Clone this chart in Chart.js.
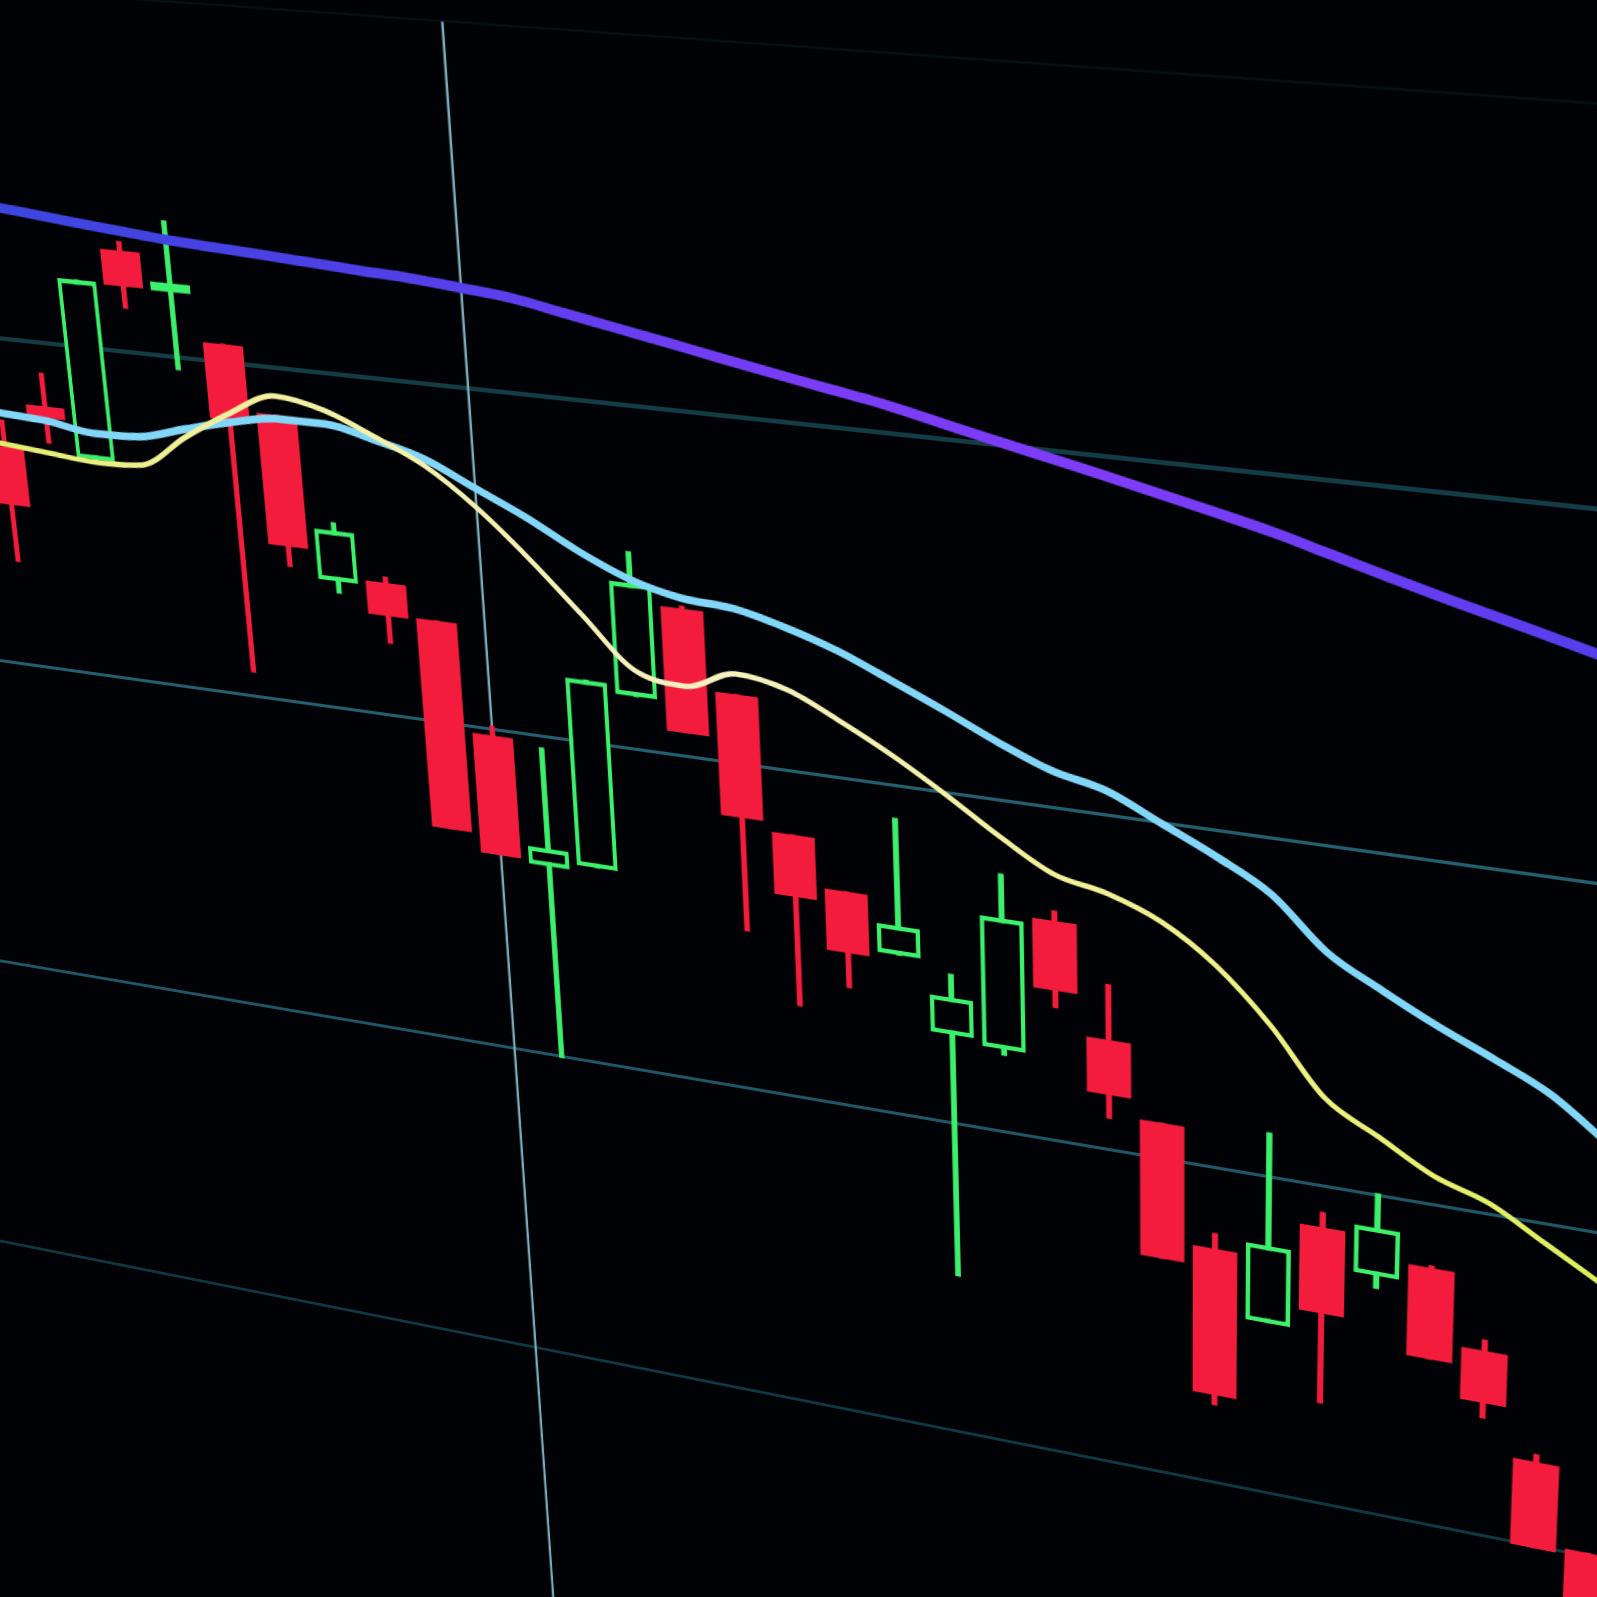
<!DOCTYPE html>
<html>
<head>
<meta charset="utf-8">
<title>Candlestick chart</title>
<script src="https://cdn.jsdelivr.net/npm/chart.js@4.4.1/dist/chart.umd.min.js"></script>
<style>
  html, body { margin: 0; padding: 0; background: #010205; width: 1597px; height: 1597px; overflow: hidden; }
  #wrap { position: relative; width: 1597px; height: 1597px; overflow: hidden; background: #010205; }
  #myChart { position: absolute; left: 0; top: 0; transform-origin: 0 0; }
</style>
</head>
<body>
<div id="wrap"><canvas id="myChart" width="1780" height="1680" style="width:1780px;height:1680px"></canvas></div>
<script>
// candles (one per period)
var days = [0, 1, 2, 3, 4, 5, 6, 7, 8, 9, 10, 11, 12, 13, 14, 15, 16, 17, 18, 19, 20, 21, 22, 23, 24, 25, 26, 27, 28, 29, 30, 31];
var open  = [267.3, 280.9, 266.5, 329.2, 318.6, 305.1, 286.1, 238.7, 240.1, 230.7, 198.1, 160.1, 161.9, 215.8, 243.5, 220.5, 181.0, 166.2, 149.3, 127.5, 125.6, 166.8, 133.6, 111.0, 74.9, 54.6, 87.4, 75.4, 80.8, 58.3, 26.7, 1.2];
var high  = [275.3, 290.8, 319.5, 331.8, 339.0, 305.1, 286.1, 256.2, 241.9, 230.7, 201.0, 196.5, 218.8, 258.2, 244.3, 220.5, 181.0, 166.2, 190.4, 146.0, 178.4, 169.8, 150.3, 111.0, 79.7, 113.5, 92.0, 100.6, 81.5, 61.7, 29.1, 1.2];
var low   = [232.2, 269.9, 266.5, 312.6, 296.2, 207.5, 241.4, 235.2, 222.0, 167.2, 161.3, 99.6, 161.9, 215.8, 207.0, 149.5, 128.8, 136.9, 149.3, 51.4, 123.7, 140.8, 109.7, 68.9, 25.3, 54.6, 32.4, 71.5, 52.6, 37.3, -0.7, -35];
var close = [249.6, 277.4, 319.5, 318.9, 321.2, 283.1, 247.4, 253.8, 230.2, 167.2, 161.3, 165.7, 218.8, 249.1, 207.0, 183.9, 162.3, 147.6, 158.2, 138.9, 165.2, 146.0, 116.9, 68.9, 28.5, 78.7, 60.7, 90.1, 52.6, 42.1, -0.7, -35];

// moving averages (start one period before the first candle)
var maDays = [-1, 0, 1, 2, 3, 4, 5, 6, 7, 8, 9, 10, 11, 12, 13, 14, 15, 16, 17, 18, 19, 20, 21, 22, 23, 24, 25, 26, 27, 28, 29, 30, 31];
var maSlow = [340.2, 338.9, 337.6, 336.2, 334.9, 333.6, 332.7, 331.9, 331.0, 330.1, 329.3, 328.0, 326.5, 323.8, 321.1, 318.4, 315.6, 312.9, 310.3, 307.7, 304.4, 301.1, 297.9, 294.7, 291.3, 287.9, 284.3, 280.1, 275.9, 271.8, 267.9, 264.0, 260.0];
var maMid  = [278.1, 277.4, 276.6, 274.5, 275.0, 278.8, 282.4, 285.0, 285.1, 282.0, 278.1, 271.3, 264.5, 256.6, 250.2, 246.6, 245.5, 241.9, 237.0, 230.5, 223.8, 216.7, 210.6, 207.0, 199.8, 192.5, 183.9, 169.6, 160.9, 153.0, 146.0, 138.4, 127.0];
var maFast = [269.5, 268.1, 266.9, 265.8, 266.6, 276.4, 285.0, 291.6, 289.0, 283.0, 276.1, 265.7, 252.6, 238.0, 223.6, 220.9, 226.5, 223.8, 216.7, 208.6, 199.3, 189.3, 180.6, 177.2, 171.2, 160.8, 145.7, 126.7, 117.6, 108.7, 103.3, 94.3, 85.2];

// horizontal price grid and the crosshair
var gridLevels = [0, 100, 200, 300, 400];
var cursorDay = 10;

// how the screen is seen by the camera: chart point -> page pixel
var viewAnchors = [
    { day: 0,  level: 0,   px: 100,  py: 1261 },
    { day: 30, level: 0,   px: 1533, py: 1546 },
    { day: 0,  level: 300, px: -8,   py: 337 },
    { day: 30, level: 300, px: 1574, py: 506 }
];

var RED = '#f41c3c';
var GREEN = '#3cf06c';
var BG = '#010205';

function isUp(i) { return close[i] >= open[i]; }

function points(xs, ys) {
    return xs.map(function (x, i) { return { x: x, y: ys[i] }; });
}

function hGradient(stops) {
    return function (c) {
        var chart = c.chart;
        var area = chart.chartArea;
        if (!area) return stops[0][1];
        var g = chart.ctx.createLinearGradient(area.left, 0, area.right, 0);
        stops.forEach(function (s) { g.addColorStop(s[0], s[1]); });
        return g;
    };
}

var gridStyle = {
    0:   ['rgba(22,78,92,0.7)', 3],
    100: ['rgba(40,115,135,0.75)', 3],
    200: ['rgba(45,125,145,0.75)', 3],
    300: ['rgba(26,84,96,0.7)', 4],
    400: ['rgba(16,42,50,0.3)', 2]
};

var canvas = document.getElementById('myChart');
var ctx = canvas.getContext('2d');

var chart = new Chart(ctx, {
    type: 'bar',
    data: {
        datasets: [
            {
                type: 'line',
                label: 'cursor',
                data: [{ x: cursorDay, y: -100 }, { x: cursorDay, y: 400 }],
                borderColor: '#79aeb9',
                borderWidth: 2.5,
                pointRadius: 0,
                order: 6
            },
            {
                label: 'wick',
                data: days.map(function (d, i) { return { x: d, y: [low[i], high[i]] }; }),
                backgroundColor: function (c) { return isUp(c.dataIndex) ? GREEN : RED; },
                barThickness: 5,
                grouped: false,
                order: 5
            },
            {
                label: 'body',
                data: days.map(function (d, i) { return { x: d, y: [open[i], close[i]] }; }),
                backgroundColor: function (c) { return isUp(c.dataIndex) ? BG : RED; },
                borderColor: function (c) { return isUp(c.dataIndex) ? GREEN : RED; },
                borderWidth: function (c) { return isUp(c.dataIndex) ? 4.5 : 0; },
                borderSkipped: false,
                barPercentage: 0.84,
                categoryPercentage: 1,
                grouped: false,
                order: 4
            },
            {
                type: 'line',
                label: 'MA slow',
                data: points(maDays, maSlow),
                borderColor: hGradient([[0, '#3548dc'], [0.3, '#4c40e6'], [0.55, '#7a3cf6'], [0.72, '#7e3cf8'], [1, '#4c3ee8']]),
                borderWidth: 9,
                pointRadius: 0,
                cubicInterpolationMode: 'monotone',
                order: 3
            },
            {
                type: 'line',
                label: 'MA mid',
                data: points(maDays, maMid),
                borderColor: '#82d6f8',
                borderWidth: 7,
                pointRadius: 0,
                cubicInterpolationMode: 'monotone',
                order: 2
            },
            {
                type: 'line',
                label: 'MA fast',
                data: points(maDays, maFast),
                borderColor: hGradient([[0, '#d6ea48'], [0.2, '#f2f09a'], [0.5, '#f6f0c0'], [0.8, '#eef080'], [1, '#d8ee50']]),
                borderWidth: 5,
                pointRadius: 0,
                cubicInterpolationMode: 'monotone',
                order: 1
            }
        ]
    },
    options: {
        responsive: false,
        animation: false,
        events: [],
        layout: { padding: 0 },
        plugins: {
            legend: { display: false },
            tooltip: { enabled: false }
        },
        scales: {
            x: { type: 'linear', min: -3, max: 32.5, display: false, offset: false },
            y: {
                min: -100,
                max: 440,
                ticks: { display: false },
                border: { display: false },
                grid: {
                    drawTicks: false,
                    color: function (c) { var s = gridStyle[c.tick.value]; return s ? s[0] : 'transparent'; },
                    lineWidth: function (c) { var s = gridStyle[c.tick.value]; return s ? s[1] : 0; }
                },
                afterBuildTicks: function (scale) {
                    scale.ticks = gridLevels.map(function (v) { return { value: v }; });
                }
            }
        }
    }
});

// perspective of the photographed screen
function solve(m, r) {
    var n = r.length, i, j, k;
    for (i = 0; i < n; i++) {
        var p = i;
        for (k = i + 1; k < n; k++) if (Math.abs(m[k][i]) > Math.abs(m[p][i])) p = k;
        var t = m[i]; m[i] = m[p]; m[p] = t;
        var tr = r[i]; r[i] = r[p]; r[p] = tr;
        for (k = i + 1; k < n; k++) {
            var f = m[k][i] / m[i][i];
            for (j = i; j < n; j++) m[k][j] -= f * m[i][j];
            r[k] -= f * r[i];
        }
    }
    var x = new Array(n);
    for (i = n - 1; i >= 0; i--) {
        var s = r[i];
        for (j = i + 1; j < n; j++) s -= m[i][j] * x[j];
        x[i] = s / m[i][i];
    }
    return x;
}

function applyView() {
    var xs = chart.scales.x, ys = chart.scales.y;
    var m = [], r = [];
    viewAnchors.forEach(function (a) {
        var x = xs.getPixelForValue(a.day), y = ys.getPixelForValue(a.level);
        m.push([x, y, 1, 0, 0, 0, -x * a.px, -y * a.px]); r.push(a.px);
        m.push([0, 0, 0, x, y, 1, -x * a.py, -y * a.py]); r.push(a.py);
    });
    var h = solve(m, r);
    canvas.style.transform = 'matrix3d(' + [h[0], h[3], 0, h[6], h[1], h[4], 0, h[7], 0, 0, 1, 0, h[2], h[5], 0, 1].join(',') + ')';
}

applyView();
</script>
</body>
</html>
